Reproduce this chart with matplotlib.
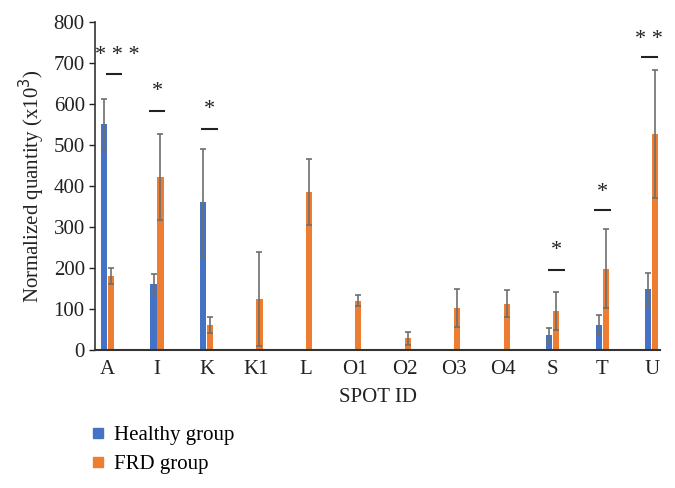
import matplotlib
matplotlib.use("Agg")
import matplotlib.pyplot as plt
import numpy as np
from matplotlib.lines import Line2D

plt.rcParams['font.family'] = ['Liberation Serif', 'DejaVu Serif']

categories = ['A', 'I', 'K', 'K1', 'L', 'O1', 'O2', 'O3', 'O4', 'S', 'T', 'U']
healthy = [550, 160, 360, 0, 0, 0, 0, 0, 0, 37, 60, 148]
healthy_err = [62, 24, 130, 0, 0, 0, 0, 0, 0, 17, 24, 40]
frd = [180, 422, 60, 125, 385, 120, 28, 102, 113, 95, 198, 527]
frd_err = [20, 105, 20, 115, 80, 13, 15, 46, 33, 46, 97, 156]

sig_idx = [0, 1, 2, 9, 10, 11]
sig_labels = ['* * *', '*', '*', '*', '*', '* *']
sig_line_y = [672, 584, 540, 195, 341, 715]
sig_star_y = [718, 630, 586, 243, 385, 758]
sig_dx = [0.13, 0.0, 0.06, 0.08, 0.0, -0.05]
sig_star_dx = [0.2, 0.0, 0.06, 0.08, 0.0, -0.05]

blue = '#4472C4'
orange = '#ED7D31'
errc = '#6E6E6E'

fig = plt.figure(figsize=(6.75, 4.88), dpi=100)
ax = fig.add_axes([0.141, 0.283, 0.837, 0.672])

x = np.arange(len(categories))
w = 0.125
off = 0.07
hx = [xi - off for xi, h in zip(x, healthy) if h > 0]
hv = [h for h in healthy if h > 0]
he = [e for h, e in zip(healthy, healthy_err) if h > 0]
ax.bar(hx, hv, width=w, color=blue, zorder=2)
ax.errorbar(hx, hv, yerr=he, fmt='none', ecolor=errc, elinewidth=1.2, capsize=2.5, capthick=1.2, zorder=3)
ax.bar(x + off, frd, width=w, color=orange, zorder=2)
ax.errorbar(x + off, frd, yerr=frd_err, fmt='none', ecolor=errc, elinewidth=1.2, capsize=2.5, capthick=1.2, zorder=3)

for i, lab, ly, sy, dx, sdx in zip(sig_idx, sig_labels, sig_line_y, sig_star_y, sig_dx, sig_star_dx):
    cx = x[i] + dx
    ax.plot([cx - 0.17, cx + 0.17], [ly, ly], color='#222222', lw=1.5, solid_capstyle='butt')
    ax.text(x[i] + sdx, sy, lab, ha='center', va='center', fontsize=16, color='#222222')

ax.set_xlim(-0.25, 11.17)
ax.set_ylim(0, 800)
ax.set_yticks(np.arange(0, 801, 100))
ax.set_xticks(x)
ax.set_xticklabels(categories)
ax.tick_params(axis='both', labelsize=15, colors='#222222')
ax.tick_params(axis='x', length=0, pad=7)
ax.tick_params(axis='y', length=4, direction='out', width=1)
for s in ['top', 'right']:
    ax.spines[s].set_visible(False)
ax.spines['left'].set_color('#333333')
ax.spines['bottom'].set_color('#333333')
ax.spines['left'].set_linewidth(1.2)
ax.spines['bottom'].set_linewidth(1.5)
ax.set_ylabel('Normalized quantity (x10$^3$)', fontsize=15, color='#222222', labelpad=5)
ax.set_xlabel('SPOT ID', fontsize=15, color='#222222', labelpad=7)

handles = [Line2D([], [], marker='s', color='none', markerfacecolor=blue, markeredgecolor=blue, markersize=7),
           Line2D([], [], marker='s', color='none', markerfacecolor=orange, markeredgecolor=orange, markersize=7)]
fig.legend(handles, ['Healthy group', 'FRD group'], loc='upper left', bbox_to_anchor=(0.136, 0.128),
           frameon=False, fontsize=15, handlelength=0.6, handletextpad=0.45, labelspacing=0.45,
           borderaxespad=0, borderpad=0)

fig.savefig('out.png', dpi=100)
